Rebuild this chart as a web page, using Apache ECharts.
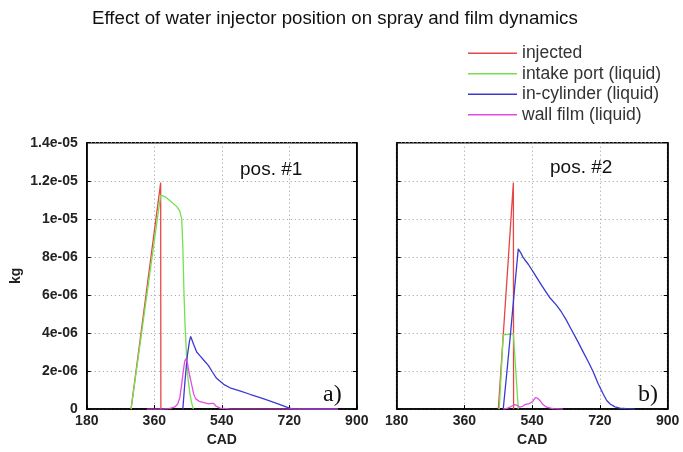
<!DOCTYPE html>
<html><head><meta charset="utf-8">
<script src="https://cdn.jsdelivr.net/npm/echarts@6/dist/echarts.min.js"></script>
<style>html,body{margin:0;padding:0;background:#fff}#c{width:683px;height:452px}</style>
</head><body><div id="c"></div>
<script>
// ---- data (CAD, kg) ----
const seriesNames = ['injected', 'intake port (liquid)', 'in-cylinder (liquid)', 'wall film (liquid)'];
const xTicks = [180, 360, 540, 720, 900];
const yTickLabels = ['0', '2e-06', '4e-06', '6e-06', '8e-06', '1e-05', '1.2e-05', '1.4e-05'];

// position #1
const p1Injected = [[298,0],[377,1.19e-5],[377.5,0]];
const p1Intake = [[298,0],[377,1.125e-5],[390,1.115e-5],[405,1.09e-5],[420,1.064e-5],[428,1.04e-5],[433,1.0e-5],[436,8.6e-6],[439,6.2e-6],[442,4.4e-6],[446,2.8e-6],[450,1.6e-6],[455,8e-7],[460,3e-7],[464,0]];
const p1Cylinder = [[436,0],[442,1.5e-6],[448,2.8e-6],[454,3.6e-6],[457,3.82e-6],[465,3.4e-6],[473,3.0e-6],[482,2.8e-6],[495,2.5e-6],[504,2.3e-6],[515,1.95e-6],[526,1.62e-6],[545,1.3e-6],[562,1.12e-6],[590,9.5e-7],[615,7.8e-7],[640,6.2e-7],[660,4.8e-7],[690,2.8e-7],[713,1e-7],[730,0],[850,0]];
const p1Film = [[340,0],[380,0],[400,3e-8],[415,1.2e-7],[422,2.5e-7],[428,6e-7],[433,1.3e-6],[437,1.96e-6],[441,2.5e-6],[444,2.64e-6],[448,2.45e-6],[451,2.1e-6],[455,1.7e-6],[460,1.25e-6],[465,8e-7],[470,5.5e-7],[480,4e-7],[490,3.5e-7],[505,2.8e-7],[512,3e-7],[518,3e-7],[525,1.5e-7],[535,5e-8],[560,1e-8],[850,0]];

// position #2
const p2Injected = [[450,0],[490,1.19e-5],[490.5,0]];
const p2Intake = [[452.5,0],[463,3.9e-6],[490,3.95e-6],[503,0]];
const p2Cylinder = [[463,0],[473,2.0e-6],[483,4.1e-6],[493,6.3e-6],[503,8.42e-6],[510,8.2e-6],[516,7.96e-6],[530,7.6e-6],[543,7.2e-6],[565,6.5e-6],[587,5.85e-6],[605,5.45e-6],[618,5.09e-6],[630,4.7e-6],[640,4.33e-6],[660,3.6e-6],[676,2.98e-6],[690,2.45e-6],[702,1.96e-6],[715,1.35e-6],[729,7.8e-7],[738,4.5e-7],[747,2.7e-7],[760,1.2e-7],[773,5e-8],[790,2e-8],[813,0]];
const p2Film = [[463,0],[475,5e-8],[485,1.5e-7],[494,2.4e-7],[500,2e-7],[507,1e-7],[515,1.5e-7],[522,2.5e-7],[530,2.7e-7],[537,3.5e-7],[543,4.4e-7],[549,6.1e-7],[555,5.6e-7],[561,4.4e-7],[568,2.5e-7],[578,1e-7],[595,3e-8],[622,0]];

const colors = ['#e64646', '#74e04e', '#3a3ad2', '#e24ce2'];

const chart = echarts.init(document.getElementById('c'), null, {renderer: 'canvas'});
const FONT = '"Liberation Sans", Arial, sans-serif';
const SERIF = '"Liberation Serif", "Times New Roman", serif';

function xAxisCfg(gi) {
  return {
    type: 'value', gridIndex: gi, min: xTicks[0], max: xTicks[xTicks.length - 1], interval: 180,
    name: 'CAD', nameLocation: 'middle', nameGap: 17,
    nameTextStyle: {fontFamily: FONT, fontSize: 14, fontWeight: 'bold', color: '#222'},
    axisLine: {show: true, onZero: false, lineStyle: {color: '#000', width: 1.5}},
    axisTick: {show: true, inside: true, length: 4, lineStyle: {color: '#000'}},
    axisLabel: {show: true, margin: 5, fontFamily: FONT, fontSize: 14, fontWeight: 'bold', color: '#222', showMinLabel: true, showMaxLabel: true},
    splitLine: {show: true, lineStyle: {color: '#9a9a9a', type: [1, 3], width: 1}}
  };
}
function yAxisCfg(gi, labels, pos) {
  return {
    type: 'value', gridIndex: gi, min: 0, max: 1.4e-5, interval: 2e-6, position: pos || 'left',
    name: (gi === 0 && labels) ? 'kg' : '', nameLocation: 'middle', nameGap: 64, nameRotate: 90,
    nameTextStyle: {fontFamily: FONT, fontSize: 14, fontWeight: 'bold', color: '#222'},
    axisLine: {show: true, lineStyle: {color: '#000', width: 1.5}},
    axisTick: {show: true, inside: true, length: 4, lineStyle: {color: '#000'}},
    axisLabel: {show: labels, margin: 9, fontFamily: FONT, fontSize: 14, fontWeight: 'bold', color: '#222',
      formatter: (v, i) => yTickLabels[i]},
    splitLine: {show: !pos, lineStyle: {color: '#9a9a9a', type: [1, 3], width: 1}}
  };
}
function line(name, data, idx, gi) {
  return {
    name: name, type: 'line', xAxisIndex: gi, yAxisIndex: gi, data: data, showSymbol: false, symbol: 'none',
    lineStyle: {color: colors[idx], width: 1.3}, itemStyle: {color: colors[idx]}, animation: false, z: 3
  };
}

chart.setOption({
  backgroundColor: '#fff',
  animation: false,
  title: {
    text: 'Effect of water injector position on spray and film dynamics',
    left: 87, top: 4,
    textStyle: {fontFamily: FONT, fontSize: 18.7, fontWeight: 'normal', color: '#111'}
  },
  legend: {
    show: true, orient: 'vertical', left: 463, top: 38, itemWidth: 49, itemHeight: 1.5, itemGap: 0,
    icon: 'rect',
    data: seriesNames,
    textStyle: {fontFamily: FONT, fontSize: 17.5, color: '#333', lineHeight: 20.5, padding: [0, 0, 0, 0]}
  },
  grid: [
    {left: 86.8, top: 142.7, width: 270, height: 276, show: true, borderColor: '#000', borderWidth: 1.5, backgroundColor: 'transparent'},
    {left: 396.7, top: 142.7, width: 271, height: 276, show: true, borderColor: '#000', borderWidth: 1.5, backgroundColor: 'transparent'}
  ],
  xAxis: [xAxisCfg(0), xAxisCfg(1)],
  yAxis: [yAxisCfg(0, true), yAxisCfg(1, false), yAxisCfg(0, false, 'right'), yAxisCfg(1, false, 'right')],
  series: [
    line(seriesNames[0], p1Injected, 0, 0),
    line(seriesNames[1], p1Intake, 1, 0),
    line(seriesNames[2], p1Cylinder, 2, 0),
    line(seriesNames[3], p1Film, 3, 0),
    line(seriesNames[0], p2Injected, 0, 1),
    line(seriesNames[1], p2Intake, 1, 1),
    line(seriesNames[2], p2Cylinder, 2, 1),
    line(seriesNames[3], p2Film, 3, 1)
  ],
  graphic: [
    {type: 'text', left: 240, top: 160, style: {text: 'pos. #1', font: 'normal 19px ' + FONT, fill: '#111'}},
    {type: 'text', left: 550, top: 158, style: {text: 'pos. #2', font: 'normal 19px ' + FONT, fill: '#111'}},
    {type: 'text', left: 323, top: 383, style: {text: 'a)', font: 'normal 24px ' + SERIF, fill: '#111'}},
    {type: 'text', left: 638, top: 383, style: {text: 'b)', font: 'normal 24px ' + SERIF, fill: '#111'}}
  ]
});
</script></body></html>
